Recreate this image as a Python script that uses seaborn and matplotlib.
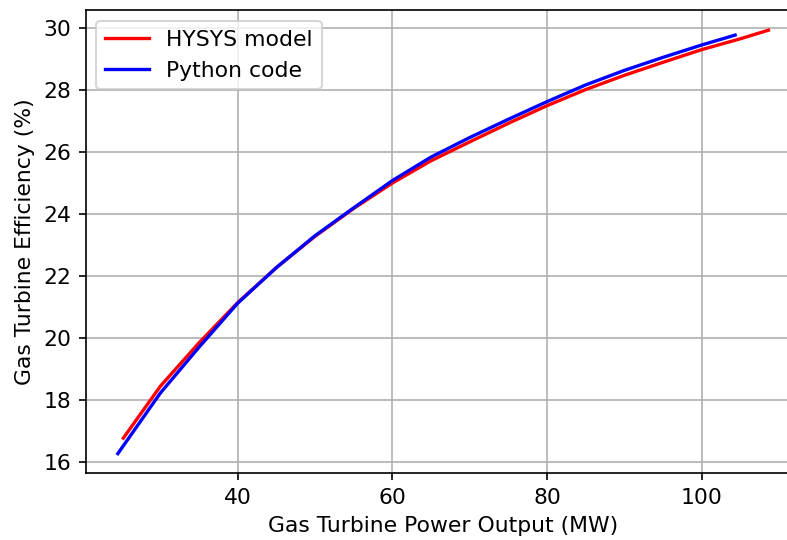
import matplotlib
matplotlib.use("Agg")
import matplotlib.pyplot as plt
import seaborn as sns
import pandas as pd

hysys_power = [25.2, 30, 35, 40, 45, 50, 55, 60, 65, 70, 75, 80, 85, 90, 95, 100, 105, 108.65]
hysys_eff = [16.76, 18.44, 19.84, 21.14, 22.27, 23.28, 24.18, 25.00, 25.72, 26.33, 26.93, 27.50,
             28.02, 28.48, 28.90, 29.31, 29.66, 29.94]

python_power = [24.49, 30, 35, 40, 45, 50, 55, 60, 65, 70, 75, 80, 85, 90, 95, 100, 104.34]
python_eff = [16.26, 18.22, 19.70, 21.12, 22.27, 23.30, 24.20, 25.08, 25.84, 26.47, 27.06, 27.63,
              28.17, 28.64, 29.06, 29.46, 29.78]

series_names = ["HYSYS model", "Python code"]

df = pd.concat([
    pd.DataFrame({"power": hysys_power, "eff": hysys_eff, "series": series_names[0]}),
    pd.DataFrame({"power": python_power, "eff": python_eff, "series": series_names[1]}),
], ignore_index=True)

plt.rcParams["font.size"] = 10.5

fig = plt.figure(figsize=(787 / 150, 540 / 150), dpi=150)
ax = fig.add_axes([85.5 / 787, 1 - 473.3 / 540, (801 - 85.5) / 787, (473.3 - 10) / 540])

sns.lineplot(data=df, x="power", y="eff", hue="series", palette={"HYSYS model": "red", "Python code": "blue"},
             sort=False, estimator=None, linewidth=1.6, ax=ax)

ax.grid(True)
ax.set_xlim(20.31, 112.86)
ax.set_ylim(15.625, 30.591)
ax.set_xlabel("Gas Turbine Power Output (MW)")
ax.set_ylabel("Gas Turbine Efficiency (%)")
ax.set_xticks([40, 60, 80, 100])
ax.set_yticks([16, 18, 20, 22, 24, 26, 28, 30])
handles, labels = ax.get_legend_handles_labels()
ax.legend(handles, labels, loc="upper left")

fig.savefig("out.png", dpi=150)
